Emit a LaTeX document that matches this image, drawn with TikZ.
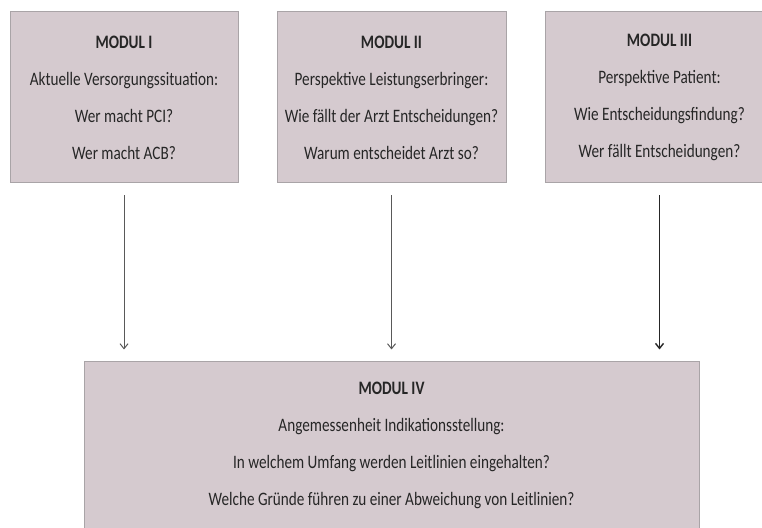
\documentclass[tikz,border=0pt]{standalone}
\usepackage{fontspec}
\setmainfont{Carlito}[FakeStretch=0.8]
\usetikzlibrary{arrows.meta}
\definecolor{modfill}{HTML}{D5CACF}
\definecolor{modline}{HTML}{A9A4A7}
\begin{document}
\begin{tikzpicture}[x=1pt,y=1pt]
            \tikzset{
                module box/.style={rectangle,draw=modline,line width=1pt,fill=modfill,align=center,
                    font=\fontsize{19}{37}\selectfont,text=black!85,minimum height=171pt},
                module arrow/.style={draw=black!65,line width=1pt,-{Straight Barb[length=5pt,width=8pt]},
                    shorten <=12pt,shorten >=12pt}
            }
            \useasboundingbox (0,0) rectangle (762,527);
            \node[module box, minimum width=228pt] (m1) at (124,429.5)
                {\textbf{MODUL I}\\Aktuelle Versorgungssituation:\\Wer macht PCI?\\Wer macht ACB?};
            \node[module box, minimum width=229pt] (m2) at (391.5,429.5)
                {\textbf{MODUL II}\\Perspektive Leistungserbringer:\\Wie fällt der Arzt Entscheidungen?\\Warum entscheidet Arzt so?};
            \node[module box, minimum width=229pt] (m3) at (659.5,429.5)
                {\textbf{MODUL III}\\Perspektive Patient:\\Wie Entscheidungsfindung?\\Wer fällt Entscheidungen?};
            \node[module box, minimum width=615pt, minimum height=166pt] (m4) at (391.5,82)
                {\textbf{MODUL IV}\\Angemessenheit Indikationsstellung:\\In welchem Umfang werden Leitlinien eingehalten?\\Welche Gründe führen zu einer Abweichung von Leitlinien?};
            \draw[module arrow] (m1.south) -- (m1.south |- m4.north);
            \draw[module arrow] (m2.south) -- (m2.south |- m4.north);
            \draw[module arrow, draw=black!85, line width=1.4pt] (m3.south) -- (m3.south |- m4.north);
\end{tikzpicture}
\end{document}
